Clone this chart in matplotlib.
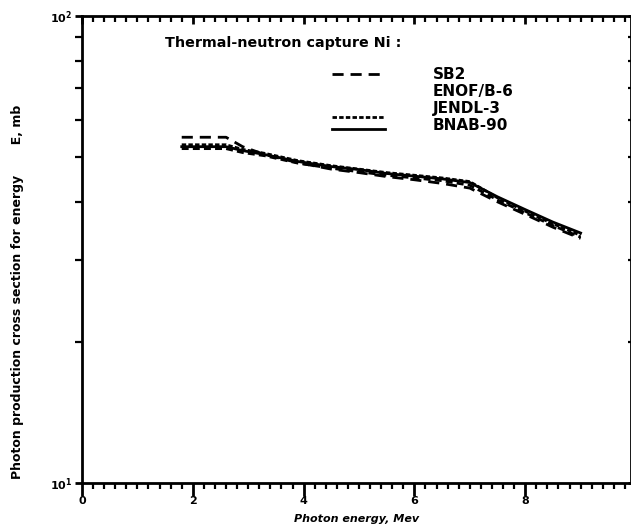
import matplotlib
matplotlib.use("Agg")
import matplotlib.pyplot as plt
from matplotlib.ticker import MultipleLocator, FixedLocator, NullFormatter, FixedFormatter
from matplotlib.lines import Line2D
from matplotlib.legend_handler import HandlerLine2D

# ---- data ----
energy = [1.8, 2.6, 2.9, 3.3, 3.9, 4.5, 5.0, 5.5, 6.0, 6.5, 7.0, 7.5, 8.0, 8.5, 9.0]
sb2 = [55.0, 55.0, 52.5, 50.5, 48.5, 47.0, 46.2, 45.3, 44.6, 43.8, 42.8, 40.0, 37.6, 35.3, 33.4]
endf = [52.0, 52.0, 51.0, 50.2, 48.4, 47.2, 46.4, 45.6, 45.0, 44.4, 43.4, 40.4, 37.9, 35.6, 33.6]
jendl = [53.0, 53.0, 51.8, 50.8, 49.0, 47.8, 47.0, 46.2, 45.6, 45.0, 44.2, 40.8, 38.2, 35.9, 33.9]
bnab = [52.5, 52.5, 51.5, 50.5, 48.8, 47.6, 46.9, 46.0, 45.4, 44.8, 44.0, 41.0, 38.5, 36.2, 34.3]
series_names = ["SB2", "ENOF/B-6", "JENDL-3", "BNAB-90"]
title_text = "Thermal-neutron capture Ni :"
xtick_vals = [0, 2, 4, 6, 8]
xtick_labels = ["0", "2", "4", "6", "8"]
ytick_vals = [10, 100]
ytick_labels = [r"$\mathbf{10^1}$", r"$\mathbf{10^2}$"]


class ShiftedLine(HandlerLine2D):
    """Legend line sample drawn a little below the label's centre."""
    def __init__(self, down=0.0, **kw):
        super().__init__(**kw)
        self.down = down

    def create_artists(self, legend, orig_handle, xdescent, ydescent, width,
                       height, fontsize, trans):
        return super().create_artists(legend, orig_handle, xdescent,
                                      ydescent + 2 * self.down, width, height,
                                      fontsize, trans)


plt.rcParams['font.family'] = ['DejaVu Sans']
fig = plt.figure(figsize=(6.31, 5.25), dpi=100)
ax = fig.add_axes([82/631, 1-483/525, 549/631, 467/525])

lw = 2.0
l_sb2, = ax.plot(energy, sb2, color='black', lw=lw, linestyle=(0, (4, 2.5)))
l_endf, = ax.plot(energy, endf, color='black', lw=lw, linestyle=(0, (2.5, 1.5)))
l_jendl, = ax.plot(energy, jendl, color='black', lw=lw, linestyle=(0, (1.6, 0.8)))
l_bnab, = ax.plot(energy, bnab, color='black', lw=lw, linestyle='-')

ax.set_yscale('log')
ax.set_ylim(10, 100)
ax.set_xlim(0, 549/55.4)

for s in ax.spines.values():
    s.set_linewidth(2.0)

# x ticks
ax.xaxis.set_major_locator(FixedLocator(xtick_vals + [10]))
ax.xaxis.set_major_formatter(FixedFormatter(xtick_labels + [""]))
ax.xaxis.set_minor_locator(MultipleLocator(0.2))
ax.tick_params(axis='x', which='major', bottom=True, top=True, direction='out',
               length=9, width=2, pad=0, labelsize=8)
ax.tick_params(axis='x', which='minor', bottom=True, top=True, direction='out',
               length=4, width=1.6)
# top ticks go inward
for t in ax.xaxis.get_major_ticks():
    t.tick2line.set_marker(3)  # TICKDOWN
    t.tick2line.set_markersize(6)
for t in ax.xaxis.get_minor_ticks():
    t.tick2line.set_marker(3)
    t.tick2line.set_markersize(4)
for lab in ax.get_xticklabels():
    lab.set_fontweight('bold')

# y ticks
ax.yaxis.set_major_locator(FixedLocator(ytick_vals))
ax.yaxis.set_major_formatter(FixedFormatter(ytick_labels))
ax.yaxis.set_minor_locator(FixedLocator([20, 30, 40, 50, 60, 70, 80, 90]))
ax.yaxis.set_minor_formatter(NullFormatter())
ax.tick_params(axis='y', which='major', left=True, right=True, direction='out',
               length=5, width=2, pad=2, labelsize=8)
ax.tick_params(axis='y', which='minor', left=True, right=True, direction='out',
               length=5, width=1.6)
for t in ax.yaxis.get_minor_ticks() + ax.yaxis.get_major_ticks():
    t.tick2line.set_marker(0)  # inward on right
    t.tick2line.set_markersize(2)

ax.set_xlabel("Photon energy, Mev", fontsize=8, fontweight='bold', fontstyle='italic', labelpad=6)
ax.set_ylabel("Photon production cross section for energy       E, mb", fontsize=9,
              fontweight='bold')
ax.yaxis.set_label_coords(-0.105, 0.41)

ax.text((165-82)/549, (483-43)/467, title_text, transform=ax.transAxes,
        fontsize=10.3, fontweight='bold', va='center', ha='left')

blank = Line2D([], [], linestyle='none')
h_sb2 = Line2D([], [], color='black', lw=lw, linestyle=(0, (4, 2.5)))
h_jendl = Line2D([], [], color='black', lw=lw, linestyle=(0, (1.6, 0.8)))
h_bnab = Line2D([], [], color='black', lw=lw, linestyle='-')
leg = ax.legend([h_sb2, blank, h_jendl, h_bnab], series_names,
                loc='upper left', bbox_to_anchor=((332-82)/549, (483-67)/467),
                frameon=False, borderpad=0, borderaxespad=0, handlelength=3.5,
                handletextpad=3.1, labelspacing=0.13,
                handler_map={h_jendl: ShiftedLine(down=6.5),
                             h_bnab: ShiftedLine(down=3.5)},
                prop={'size': 11, 'weight': 'bold'})

fig.savefig("out.png", dpi=100)
